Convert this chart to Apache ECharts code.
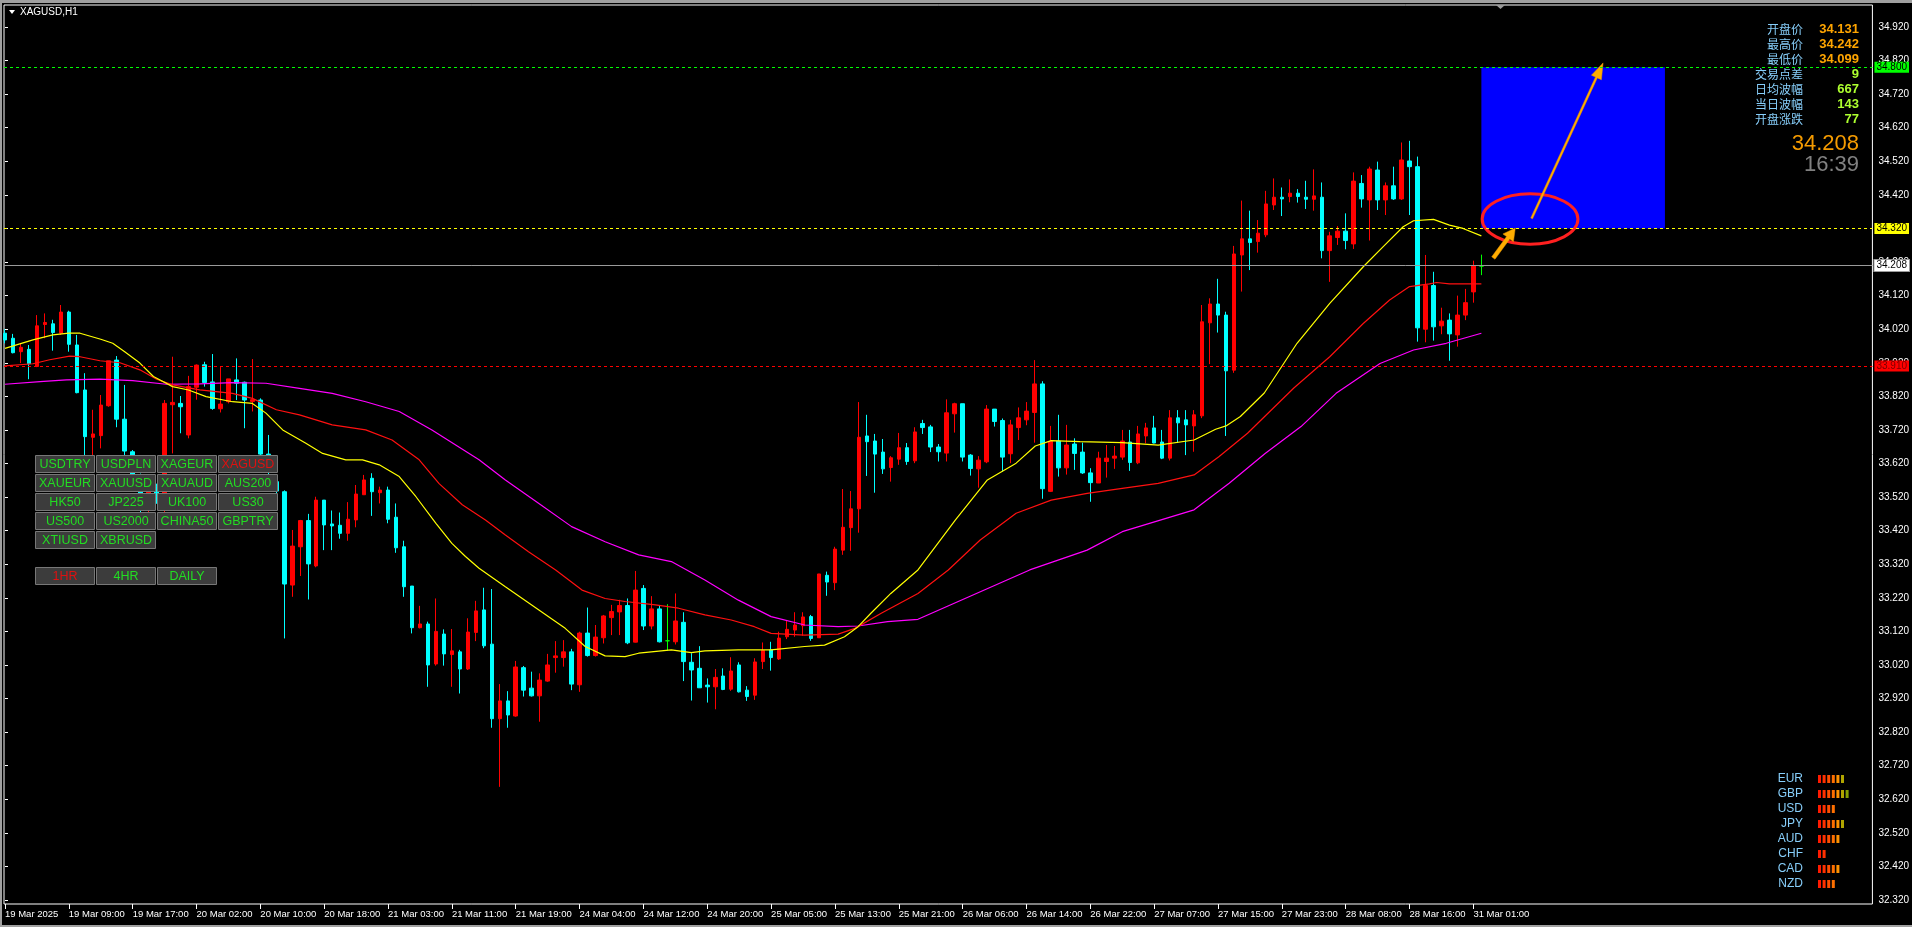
<!DOCTYPE html>
<html><head><meta charset="utf-8">
<script src="https://cdn.jsdelivr.net/npm/echarts@6/dist/echarts.min.js"></script>
<style>html,body{margin:0;padding:0;background:#000;overflow:hidden}#c{width:1912px;height:927px}</style>
</head><body><div id="c"></div>
<script>
// ---------------- DATA ----------------
const chartTitle = 'XAGUSD,H1';
const xTickLabels = ['19 Mar 2025','19 Mar 09:00','19 Mar 17:00','20 Mar 02:00','20 Mar 10:00','20 Mar 18:00',
  '21 Mar 03:00','21 Mar 11:00','21 Mar 19:00','24 Mar 04:00','24 Mar 12:00','24 Mar 20:00','25 Mar 05:00',
  '25 Mar 13:00','25 Mar 21:00','26 Mar 06:00','26 Mar 14:00','26 Mar 22:00','27 Mar 07:00','27 Mar 15:00',
  '27 Mar 23:00','28 Mar 08:00','28 Mar 16:00','31 Mar 01:00'];
const yTickLabels = ['32.320','32.420','32.520','32.620','32.720','32.820','32.920','33.020','33.120','33.220',
  '33.320','33.420','33.520','33.620','33.720','33.820','33.920','34.020','34.120','34.220','34.320','34.420',
  '34.520','34.620','34.720','34.820','34.920'];
// hourly bars: [open, high, low, close]
const ohlc = [
[34.008,34.020,33.978,33.988],[33.993,34.006,33.948,33.950],[33.953,33.978,33.919,33.966],[33.960,33.973,33.871,33.917],
[33.909,34.062,33.907,34.030],[34.034,34.067,33.993,34.040],[34.036,34.048,33.956,34.010],[34.008,34.092,34.003,34.071],
[34.071,34.075,33.953,33.975],[33.973,34.003,33.829,33.831],[33.839,33.889,33.640,33.700],[33.698,33.780,33.645,33.708],
[33.703,33.824,33.665,33.794],[33.792,33.926,33.789,33.926],[33.928,33.940,33.728,33.752],[33.752,33.854,33.630,33.657],
[33.655,33.660,33.540,33.570],[33.570,33.590,33.470,33.500],[33.500,33.550,33.470,33.540],[33.551,33.560,33.500,33.521],
[33.480,33.809,33.470,33.799],[33.795,33.938,33.650,33.802],[33.799,33.821,33.710,33.789],[33.705,33.881,33.695,33.849],
[33.847,33.915,33.810,33.913],[33.914,33.923,33.849,33.861],[33.863,33.946,33.780,33.784],[33.783,33.907,33.772,33.797],
[33.804,33.872,33.799,33.872],[33.869,33.933,33.809,33.859],[33.862,33.864,33.725,33.809],[33.805,33.931,33.775,33.810],
[33.809,33.814,33.640,33.648],[33.648,33.705,33.560,33.600],[33.566,33.580,33.480,33.538],[33.536,33.540,33.099,33.261],
[33.258,33.422,33.223,33.374],[33.372,33.452,33.285,33.450],[33.450,33.470,33.215,33.321],[33.315,33.521,33.311,33.511],
[33.511,33.511,33.362,33.437],[33.440,33.480,33.362,33.434],[33.436,33.474,33.396,33.412],[33.412,33.505,33.390,33.454],
[33.452,33.556,33.430,33.529],[33.527,33.586,33.527,33.571],[33.576,33.591,33.464,33.536],[33.533,33.551,33.501,33.541],
[33.541,33.551,33.442,33.454],[33.460,33.501,33.354,33.369],[33.372,33.390,33.223,33.253],[33.255,33.255,33.114,33.131],
[33.131,33.196,33.129,33.142],[33.142,33.149,32.955,33.020],[33.023,33.218,33.018,33.120],[33.112,33.126,33.018,33.053],
[33.051,33.127,32.955,33.062],[33.059,33.065,32.935,33.008],[33.008,33.159,33.005,33.118],[33.117,33.211,33.091,33.181],
[33.184,33.250,33.070,33.077],[33.082,33.246,32.833,32.860],[32.860,32.963,32.657,32.913],[32.913,32.942,32.833,32.871],
[32.868,33.032,32.866,33.014],[33.012,33.017,32.926,32.945],[32.951,33.000,32.926,32.928],[32.928,32.995,32.851,32.975],
[32.972,33.053,32.970,33.020],[33.042,33.091,32.997,33.047],[33.042,33.094,33.015,33.059],[33.059,33.068,32.945,32.963],
[32.961,33.119,32.940,33.115],[33.115,33.191,33.045,33.048],[33.048,33.139,33.045,33.103],[33.101,33.169,33.084,33.166],
[33.161,33.199,33.109,33.179],[33.178,33.214,33.109,33.197],[33.197,33.218,33.082,33.086],[33.088,33.300,33.087,33.243],
[33.248,33.258,33.124,33.136],[33.136,33.225,33.126,33.187],[33.187,33.196,33.087,33.089],[33.092,33.201,33.063,33.092],
[33.089,33.233,33.081,33.151],[33.147,33.177,32.972,33.030],[33.028,33.055,32.914,33.005],[33.010,33.076,32.952,32.952],
[32.960,32.980,32.908,32.955],[32.955,33.008,32.888,32.983],[32.987,33.010,32.945,32.947],[32.948,33.043,32.943,33.002],
[33.020,33.028,32.938,32.940],[32.945,32.957,32.913,32.926],[32.930,33.040,32.916,33.029],[33.030,33.087,33.008,33.063],
[33.065,33.089,33.003,33.042],[33.038,33.119,33.035,33.100],[33.104,33.151,33.097,33.126],[33.124,33.177,33.104,33.139],
[33.137,33.177,33.107,33.163],[33.164,33.169,33.092,33.099],[33.101,33.291,33.101,33.291],[33.287,33.298,33.226,33.267],
[33.265,33.372,33.243,33.365],[33.362,33.544,33.348,33.430],[33.429,33.538,33.360,33.485],[33.485,33.803,33.414,33.698],
[33.702,33.765,33.583,33.685],[33.687,33.708,33.533,33.648],[33.654,33.693,33.589,33.604],[33.608,33.642,33.566,33.637],
[33.633,33.711,33.616,33.667],[33.667,33.681,33.616,33.626],[33.628,33.728,33.621,33.714],[33.739,33.750,33.708,33.727],
[33.729,33.735,33.654,33.669],[33.669,33.678,33.626,33.655],[33.651,33.811,33.626,33.771],[33.768,33.801,33.712,33.798],
[33.798,33.798,33.626,33.639],[33.645,33.648,33.584,33.605],[33.604,33.642,33.548,33.630],[33.625,33.794,33.621,33.782],
[33.782,33.782,33.730,33.745],[33.748,33.754,33.596,33.639],[33.649,33.750,33.621,33.735],[33.727,33.787,33.690,33.756],
[33.750,33.803,33.734,33.776],[33.772,33.928,33.682,33.857],[33.857,33.865,33.515,33.545],[33.537,33.732,33.535,33.686],
[33.687,33.765,33.581,33.607],[33.607,33.735,33.587,33.675],[33.678,33.695,33.601,33.650],[33.654,33.682,33.589,33.592],
[33.592,33.606,33.506,33.563],[33.562,33.655,33.562,33.636],[33.626,33.675,33.578,33.636],[33.636,33.672,33.604,33.642],
[33.639,33.720,33.631,33.687],[33.684,33.720,33.598,33.623],[33.622,33.732,33.618,33.708],[33.702,33.741,33.680,33.726],
[33.726,33.762,33.680,33.681],[33.684,33.720,33.633,33.636],[33.636,33.779,33.629,33.756],[33.756,33.779,33.681,33.741],
[33.750,33.779,33.645,33.735],[33.732,33.779,33.655,33.765],[33.762,34.092,33.755,34.042],[34.039,34.112,33.916,34.095],
[34.095,34.170,34.010,34.062],[34.062,34.072,33.702,33.896],[33.898,34.268,33.890,34.244],[34.241,34.403,34.132,34.289],
[34.289,34.373,34.196,34.278],[34.281,34.345,34.248,34.306],[34.301,34.432,34.294,34.393],[34.390,34.469,34.375,34.413],
[34.413,34.442,34.357,34.408],[34.415,34.466,34.398,34.425],[34.425,34.437,34.397,34.415],[34.413,34.462,34.378,34.407],
[34.407,34.496,34.373,34.417],[34.413,34.457,34.231,34.254],[34.254,34.310,34.161,34.298],[34.293,34.327,34.271,34.312],
[34.312,34.365,34.258,34.284],[34.274,34.487,34.259,34.461],[34.454,34.479,34.382,34.408],[34.405,34.504,34.284,34.497],
[34.494,34.519,34.375,34.405],[34.405,34.457,34.360,34.447],[34.447,34.504,34.405,34.408],[34.408,34.576,34.405,34.524],
[34.521,34.581,34.360,34.504],[34.504,34.534,33.983,34.024],[34.020,34.241,33.981,34.150],[34.150,34.191,33.986,34.027],
[34.030,34.084,34.005,34.044],[34.047,34.067,33.926,34.006],[34.003,34.120,33.968,34.062],[34.062,34.140,34.047,34.099],
[34.131,34.224,34.099,34.208],[34.208,34.242,34.181,34.208]
];
// moving averages: [bar index, price]
const maFast = [[0,33.963],[3.5,33.988],[6,34.003],[8,34.008],[9.4,34.008],[12,33.990],[13.5,33.978],[15,33.953],[16.9,33.919],
 [18.6,33.879],[21,33.849],[23,33.839],[25.2,33.819],[28.5,33.804],[31,33.799],[32.7,33.770],[34.8,33.720],[37.7,33.680],
 [39.8,33.650],[42.7,33.631],[44.8,33.631],[46.9,33.616],[49.4,33.581],[51.5,33.521],[54,33.442],[56,33.382],[57.7,33.343],
 [59.4,33.308],[62.7,33.253],[66.9,33.184],[70.2,33.129],[72.7,33.075],[75.2,33.047],[77.7,33.045],[79.4,33.055],
 [83.5,33.065],[86,33.057],[87.7,33.062],[91.9,33.065],[96,33.065],[100.2,33.075],[102.7,33.079],[105.2,33.104],
 [106.9,33.134],[108.5,33.174],[111,33.233],[114.4,33.303],[119.1,33.452],[123.1,33.571],[126.7,33.621],[129.1,33.672],
 [131.1,33.688],[134.7,33.685],[140,33.682],[144.5,33.675],[149,33.690],[151.7,33.722],[153,33.732],[154.8,33.760],
 [157.8,33.830],[161.9,33.978],[166,34.097],[170.2,34.206],[172.7,34.266],[175.2,34.325],[176.5,34.343],[179,34.347],
 [181,34.330],[182.7,34.320],[185,34.298]];
const maMid = [[0,33.911],[3.5,33.917],[5.6,33.929],[8.1,33.940],[9.4,33.938],[11.9,33.926],[14.4,33.920],[16.9,33.899],
 [19,33.871],[21,33.854],[24.4,33.839],[28.5,33.829],[31,33.814],[34,33.780],[36.9,33.765],[41,33.735],[45.2,33.720],
 [48.5,33.690],[51.9,33.631],[54.4,33.560],[57.3,33.497],[60.2,33.452],[62.7,33.407],[65.6,33.357],[69,33.303],[72.3,33.243],
 [75.2,33.218],[77.7,33.209],[81.5,33.199],[84.4,33.189],[87.7,33.169],[91,33.154],[93.9,33.134],[96,33.114],[100.2,33.109],
 [104.4,33.112],[106.5,33.129],[109.8,33.174],[114.4,33.233],[118.2,33.303],[122.2,33.392],[126.7,33.472],[131.1,33.511],
 [135.6,33.531],[140,33.546],[144.5,33.561],[149,33.586],[152.1,33.640],[155.7,33.710],[161.5,33.845],[166,33.938],
 [170.2,34.037],[173.5,34.107],[176,34.147],[178.5,34.155],[179.4,34.159],[181,34.155],[185,34.155]];
const maSlow = [[0,33.856],[4.4,33.864],[7.7,33.869],[11.9,33.871],[16,33.867],[20.2,33.856],[24.4,33.857],[28.5,33.861],
 [32.7,33.859],[36.9,33.844],[41,33.829],[45.2,33.804],[49.4,33.775],[53.5,33.720],[59.4,33.631],[62.7,33.571],[66.9,33.501],
 [71,33.432],[75.2,33.387],[79.4,33.348],[83.5,33.328],[87.7,33.273],[91.9,33.213],[96,33.164],[100.2,33.139],[104.4,33.134],
 [106.9,33.136],[110.6,33.149],[114.4,33.156],[128.4,33.303],[135.6,33.362],[140,33.417],[149,33.482],[153.4,33.561],
 [157.9,33.650],[162.4,33.730],[166.8,33.829],[172.3,33.918],[176.5,33.958],[180.6,33.978],[185,34.008]];
const levelGreen = 34.800, levelYellow = 34.320, levelRed = 33.910, currentPrice = 34.208;
const zone = {fromBar: 185, toBar: 208, high: 34.800, low: 34.320};
const ellipseMark = [[191.1, 34.348, 6.0, 0.075]];           // centre bar, centre price, half-width (bars), half-height (price)
const arrowMarks = [[186.5, 34.232, 189.25, 34.321], [191.3, 34.350, 200.25, 34.813]];
const infoLabels = ['开盘价','最高价','最低价','交易点差','日均波幅','当日波幅','开盘涨跌'];
const infoValues = ['34.131','34.242','34.099','9','667','143','77'];
const bigPrice = '34.208', clockText = '16:39';
const symbolButtons = [['USDTRY','USDPLN','XAGEUR','XAGUSD'],['XAUEUR','XAUUSD','XAUAUD','AUS200'],['HK50','JP225','UK100','US30'],
  ['US500','US2000','CHINA50','GBPTRY'],['XTIUSD','XBRUSD']];
const activeSymbol = 'XAGUSD';
const tfButtons = ['1HR','4HR','DAILY'];
const activeTf = '1HR';
const currencies = ['EUR','GBP','USD','JPY','AUD','CHF','CAD','NZD'];
const strength = [6,7,4,6,5,2,5,4];

// ---------------- CHART ----------------
const chart = echarts.init(document.getElementById('c'), null, {renderer: 'canvas'});
const candleData = ohlc.map((d, i) => [i, d[0], d[3], d[2], d[1]]);
const xTickIdx = xTickLabels.map((_, k) => k * 8);
const yTickVals = yTickLabels.map(Number);

function lvl(value, lineColor, dashed, bg, fg, border) {
  return {
    yAxis: value,
    lineStyle: {color: lineColor, type: dashed ? [3, 3] : 'solid', width: 1},
    label: {show: true, position: 'end', distance: 2, formatter: value.toFixed(3), color: fg,
      backgroundColor: bg, padding: [1, 2, 0, 2], fontSize: 10, fontFamily: '"Liberation Sans",Arial',
      borderColor: border || bg, borderWidth: border ? 1 : 0}
  };
}

const stripColors = ['#ff1a00','#ff3000','#ff4d00','#ff7000','#ff9200','#b0a400','#86a000'];
const graphics = [];
// window frame (gray)
graphics.push({type: 'rect', shape: {x: 0, y: 0, width: 1912, height: 3}, style: {fill: '#a0a0a0'}, silent: true});
graphics.push({type: 'rect', shape: {x: 0, y: 0, width: 2, height: 927}, style: {fill: '#a0a0a0'}, silent: true});
graphics.push({type: 'rect', shape: {x: 0, y: 925, width: 1912, height: 2}, style: {fill: '#a0a0a0'}, silent: true});
// title
graphics.push({type: 'polygon', shape: {points: [[9, 10], [15, 10], [12, 14]]}, style: {fill: '#ffffff'}, silent: true});
graphics.push({type: 'text', x: 20, y: 12, style: {text: chartTitle, fill: '#ffffff', font: '10px "Liberation Sans",Arial', textVerticalAlign: 'middle'}, silent: true});
// shift marker
graphics.push({type: 'polygon', shape: {points: [[1496, 5], [1505, 5], [1500.5, 9]]}, style: {fill: '#9a9a9a'}, silent: true});
// info panel
infoLabels.forEach((t, k) => {
  const y = 29 + k * 15;
  graphics.push({type: 'text', x: 1803, y: y, z: 100, style: {text: t, fill: '#87cefa', font: '12px "Noto Sans CJK SC"', textAlign: 'right', textVerticalAlign: 'middle'}, silent: true});
  graphics.push({type: 'text', x: 1859, y: y, z: 100, style: {text: infoValues[k], fill: k < 3 ? '#ffa500' : '#adff2f', font: 'bold 13px "Liberation Sans",Arial', textAlign: 'right', textVerticalAlign: 'middle'}, silent: true});
});
graphics.push({type: 'text', x: 1859, y: 144, z: 100, style: {text: bigPrice, fill: '#f59b00', font: '22px "Liberation Sans",Arial', textAlign: 'right', textVerticalAlign: 'middle'}, silent: true});
graphics.push({type: 'text', x: 1859, y: 165, z: 100, style: {text: clockText, fill: '#808080', font: '22px "Liberation Sans",Arial', textAlign: 'right', textVerticalAlign: 'middle'}, silent: true});
// buttons
function button(x, y, label, active) {
  graphics.push({type: 'rect', z: 100, shape: {x: x + 0.5, y: y + 0.5, width: 59, height: 17}, style: {fill: '#3c3c3c', stroke: '#777777', lineWidth: 1}, silent: true});
  graphics.push({type: 'text', z: 101, x: x + 30, y: y + 9.5, style: {text: label, fill: active ? '#e01010' : '#22dd22', font: '12.5px "Liberation Sans",Arial', textAlign: 'center', textVerticalAlign: 'middle'}, silent: true});
}
symbolButtons.forEach((row, r) => row.forEach((s, c) => button(35 + c * 61, 455 + r * 19, s, s === activeSymbol)));
tfButtons.forEach((s, c) => button(35 + c * 61, 567, s, s === activeTf));
// currency strength
currencies.forEach((cur, k) => {
  const y = 779 + k * 15;
  graphics.push({type: 'text', x: 1803, y: y, z: 100, style: {text: cur, fill: '#87cefa', font: '12px "Liberation Sans",Arial', textAlign: 'right', textVerticalAlign: 'middle'}, silent: true});
  for (let j = 0; j < strength[k]; j++) {
    graphics.push({type: 'rect', z: 100, shape: {x: 1818 + j * 4.6, y: y - 4, width: 3, height: 8}, style: {fill: stripColors[j]}, silent: true});
  }
});

const arrowStyles = [{shaft: 4, head: 13, headLen: 12}, {shaft: 2, head: 11, headLen: 16}];

const option = {
  backgroundColor: '#000000',
  animation: false,
  grid: {left: 4, right: 35, top: 5, bottom: 23, show: true, borderColor: '#ffffff', borderWidth: 1, backgroundColor: '#000000'},
  xAxis: {
    type: 'value', min: -0.125, max: 234,
    axisLine: {show: false}, splitLine: {show: false},
    axisTick: {show: true, customValues: xTickIdx, length: 5, lineStyle: {color: '#ffffff'}},
    axisLabel: {customValues: xTickIdx, formatter: v => xTickLabels[Math.round(v / 8)] || '', align: 'left',
      color: '#ffffff', fontSize: 9.5, fontFamily: '"Liberation Sans",Arial', margin: 5, hideOverlap: false,
      showMinLabel: true, showMaxLabel: true}
  },
  yAxis: {
    type: 'value', position: 'right', min: 32.3081, max: 34.9855, scale: true,
    axisLine: {show: false}, splitLine: {show: false},
    axisTick: {show: true, customValues: yTickVals, length: 3, lineStyle: {color: '#ffffff'}},
    axisLabel: {customValues: yTickVals, formatter: v => v.toFixed(3), color: '#ffffff', fontSize: 10,
      fontFamily: '"Liberation Sans",Arial', margin: 6}
  },
  series: [
    {
      type: 'candlestick', data: candleData, barWidth: 4, z: 3,
      itemStyle: {color: '#ff0000', color0: '#00ffff', borderColor: '#ff0000', borderColor0: '#00ffff', borderColorDoji: '#00ff00', borderWidth: 1},
      markArea: {silent: true, itemStyle: {color: '#0000ff', opacity: 1}, data: [[{xAxis: zone.fromBar, yAxis: zone.high}, {xAxis: zone.toBar, yAxis: zone.low}]]},
      markLine: {silent: true, symbol: ['none', 'none'], animation: false, z: 10,
        data: [
          lvl(levelGreen, '#00ff00', true, '#00ff00', '#000000'),
          lvl(levelYellow, '#ffff00', true, '#ffff00', '#000000'),
          lvl(levelRed, '#ff0000', true, '#ff0000', '#7a0000'),
          lvl(currentPrice, '#9a9a9a', false, '#ffffff', '#000000', '#9a9a9a')
        ]}
    },
    {type: 'line', data: maSlow, showSymbol: false, symbol: 'none', z: 4, lineStyle: {color: '#ff00ff', width: 1.2}},
    {type: 'line', data: maMid, showSymbol: false, symbol: 'none', z: 4, lineStyle: {color: '#ff1010', width: 1.2}},
    {type: 'line', data: maFast, showSymbol: false, symbol: 'none', z: 4, lineStyle: {color: '#ffff00', width: 1.2}},
    {
      type: 'custom', z: 6, data: ellipseMark, silent: true,
      renderItem: (params, api) => {
        const c = api.coord([api.value(0), api.value(1)]);
        const s = api.size([api.value(2), api.value(3)]);
        return {type: 'ellipse', shape: {cx: c[0], cy: c[1], rx: s[0], ry: s[1]}, style: {fill: null, stroke: '#ff2020', lineWidth: 3}};
      }
    },
    {
      type: 'custom', z: 7, data: arrowMarks, silent: true,
      renderItem: (params, api) => {
        const st = arrowStyles[params.dataIndex];
        const p0 = api.coord([api.value(0), api.value(1)]);
        const p1 = api.coord([api.value(2), api.value(3)]);
        const dx = p1[0] - p0[0], dy = p1[1] - p0[1];
        const len = Math.sqrt(dx * dx + dy * dy);
        const ux = dx / len, uy = dy / len, nx = -uy, ny = ux;
        const bx = p1[0] - ux * st.headLen, by = p1[1] - uy * st.headLen;
        const pts = [
          [p0[0] + nx * st.shaft / 2, p0[1] + ny * st.shaft / 2],
          [bx + nx * st.shaft / 2, by + ny * st.shaft / 2],
          [bx + nx * st.head / 2, by + ny * st.head / 2],
          [p1[0], p1[1]],
          [bx - nx * st.head / 2, by - ny * st.head / 2],
          [bx - nx * st.shaft / 2, by - ny * st.shaft / 2],
          [p0[0] - nx * st.shaft / 2, p0[1] - ny * st.shaft / 2]
        ];
        return {type: 'polygon', shape: {points: pts}, style: {fill: '#ffad00', stroke: '#e89400', lineWidth: 0.5}};
      }
    }
  ],
  graphic: graphics
};
chart.setOption(option);
</script>
</body></html>
